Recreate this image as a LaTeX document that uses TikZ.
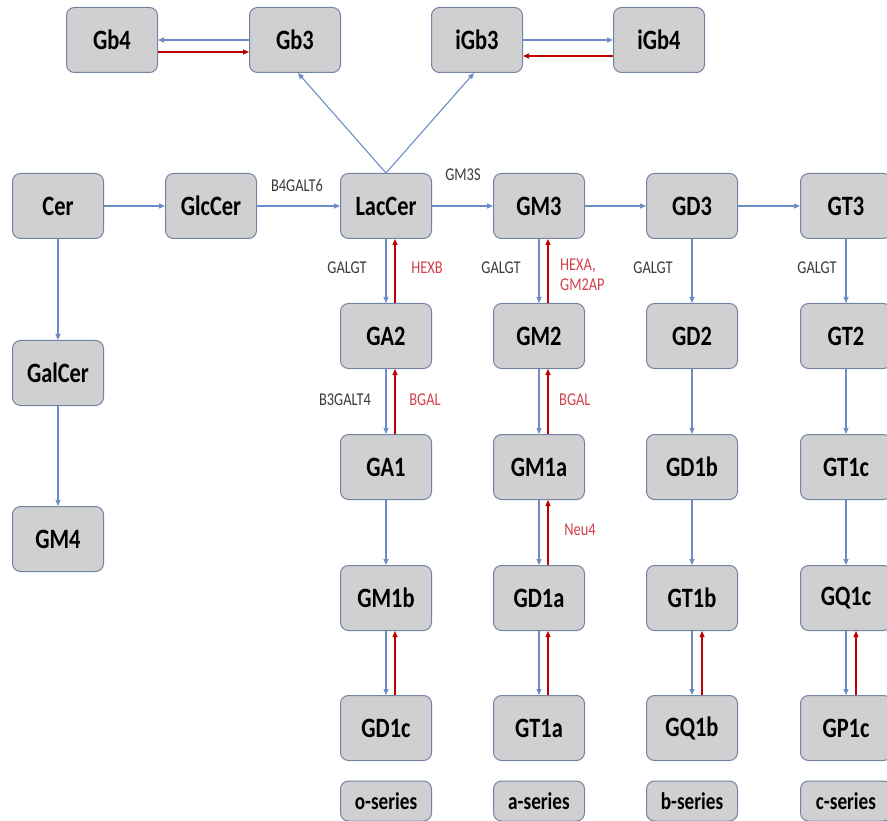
\documentclass[tikz,border=0pt]{standalone}
\usepackage{fontspec}
\setmainfont{Carlito}
\usepackage{graphicx}
\usetikzlibrary{arrows.meta}
\definecolor{boxfill}{HTML}{D0CFD1}
\definecolor{boxline}{HTML}{7484A4}
\definecolor{bluearr}{HTML}{6C8CC8}
\definecolor{redarr}{HTML}{C00000}
\definecolor{lbl}{HTML}{3A3A3A}
\definecolor{redlbl}{HTML}{D2404C}
\newcommand{\hsq}[1]{\scalebox{0.8}[1]{#1}}
\begin{document}
\begin{tikzpicture}[x=1pt,y=-1pt,
  gbox/.style={draw=boxline, fill=boxfill, line width=1pt, rounded corners=8pt,
    minimum width=91pt, minimum height=65pt, inner sep=0pt,
    font=\bfseries\fontsize{28}{30}\selectfont},
  sbox/.style={gbox, minimum height=40pt, font=\bfseries\fontsize{24}{26}\selectfont},
  fwd/.style={draw=bluearr, line width=1.1pt, -{Triangle[length=6pt,width=5pt]}},
  rev/.style={draw=redarr, line width=1.1pt, -{Triangle[length=6pt,width=5pt]}},
  enz/.style={text=lbl, font=\fontsize{18}{20}\selectfont, inner sep=0pt},
  renz/.style={text=redlbl, font=\fontsize{18}{20}\selectfont, inner sep=0pt}]
\useasboundingbox[fill=white] (0,0) rectangle (887,821);

% top row
\node[gbox] (Gb4) at (112,40) {\hsq{Gb4}};
\node[gbox] (Gb3) at (295,40) {\hsq{Gb3}};
\node[gbox] (iGb3) at (477,40) {\hsq{iGb3}};
\node[gbox] (iGb4) at (659,40) {\hsq{iGb4}};

% main row
\node[gbox] (Cer) at (58,206) {\hsq{Cer}};
\node[gbox] (GlcCer) at (211,206) {\hsq{GlcCer}};
\node[gbox] (LacCer) at (386,206) {\hsq{LacCer}};
\node[gbox] (GM3) at (539,206) {\hsq{GM3}};
\node[gbox] (GD3) at (692,206) {\hsq{GD3}};
\node[gbox] (GT3) at (846,206) {\hsq{GT3}};

\node[gbox] (GalCer) at (58,373) {\hsq{GalCer}};
\node[gbox] (GM4) at (58,539) {\hsq{GM4}};

\node[gbox] (GA2) at (386,336) {\hsq{GA2}};
\node[gbox] (GM2) at (539,336) {\hsq{GM2}};
\node[gbox] (GD2) at (692,336) {\hsq{GD2}};
\node[gbox] (GT2) at (846,336) {\hsq{GT2}};

\node[gbox] (GA1) at (386,467) {\hsq{GA1}};
\node[gbox] (GM1a) at (539,467) {\hsq{GM1a}};
\node[gbox] (GD1b) at (692,467) {\hsq{GD1b}};
\node[gbox] (GT1c) at (846,467) {\hsq{GT1c}};

\node[gbox] (GM1b) at (386,598) {\hsq{GM1b}};
\node[gbox] (GD1a) at (539,598) {\hsq{GD1a}};
\node[gbox] (GT1b) at (692,598) {\hsq{GT1b}};
\node[gbox] (GQ1c) at (846,598) {\hsq{GQ1c}};

\node[gbox] (GD1c) at (386,728) {\hsq{GD1c}};
\node[gbox] (GT1a) at (539,728) {\hsq{GT1a}};
\node[gbox] (GQ1b) at (692,728) {\hsq{GQ1b}};
\node[gbox] (GP1c) at (846,728) {\hsq{GP1c}};

\node[sbox] (so) at (386,801) {\hsq{o-series}};
\node[sbox] (sa) at (539,801) {\hsq{a-series}};
\node[sbox] (sb) at (692,801) {\hsq{b-series}};
\node[sbox] (sc) at (846,801) {\hsq{c-series}};

% top connectors
\draw[fwd] (Gb3.west) -- (Gb4.east);
\draw[rev] ([yshift=-12pt]Gb4.east) -- ([yshift=-12pt]Gb3.west);
\draw[fwd] (iGb3.east) -- (iGb4.west);
\draw[rev] ([yshift=-16pt]iGb4.west) -- ([yshift=-16pt]iGb3.east);
\draw[fwd] (LacCer.north) -- ([xshift=3pt]Gb3.south);
\draw[fwd] (LacCer.north) -- ([xshift=-3pt]iGb3.south);

% main row
\draw[fwd] (Cer) -- (GlcCer);
\draw[fwd] (GlcCer) -- (LacCer);
\draw[fwd] (LacCer) -- (GM3);
\draw[fwd] (GM3) -- (GD3);
\draw[fwd] (GD3) -- (GT3);
\draw[fwd] (Cer) -- (GalCer);
\draw[fwd] (GalCer) -- (GM4);

% o column
\draw[fwd] (LacCer) -- (GA2);
\draw[rev] ([xshift=9pt]GA2.north) -- ([xshift=9pt]LacCer.south);
\draw[fwd] (GA2) -- (GA1);
\draw[rev] ([xshift=9pt]GA1.north) -- ([xshift=9pt]GA2.south);
\draw[fwd] (GA1) -- (GM1b);
\draw[fwd] (GM1b) -- (GD1c);
\draw[rev] ([xshift=9pt]GD1c.north) -- ([xshift=9pt]GM1b.south);

% a column
\draw[fwd] (GM3) -- (GM2);
\draw[rev] ([xshift=9pt]GM2.north) -- ([xshift=9pt]GM3.south);
\draw[fwd] (GM2) -- (GM1a);
\draw[rev] ([xshift=9pt]GM1a.north) -- ([xshift=9pt]GM2.south);
\draw[fwd] (GM1a) -- (GD1a);
\draw[rev] ([xshift=9pt]GD1a.north) -- ([xshift=9pt]GM1a.south);
\draw[fwd] (GD1a) -- (GT1a);
\draw[rev] ([xshift=9pt]GT1a.north) -- ([xshift=9pt]GD1a.south);

% b column
\draw[fwd] (GD3) -- (GD2);
\draw[fwd] (GD2) -- (GD1b);
\draw[fwd] (GD1b) -- (GT1b);
\draw[fwd] (GT1b) -- (GQ1b);
\draw[rev] ([xshift=10pt]GQ1b.north) -- ([xshift=10pt]GT1b.south);

% c column
\draw[fwd] (GT3) -- (GT2);
\draw[fwd] (GT2) -- (GT1c);
\draw[fwd] (GT1c) -- (GQ1c);
\draw[fwd] (GQ1c) -- (GP1c);
\draw[rev] ([xshift=10pt]GP1c.north) -- ([xshift=10pt]GQ1c.south);

% enzyme labels
\node[enz] (lB4) at (297,185) {\hsq{B4GALT6}};
\node[enz] (lGM3S) at (463,175) {\hsq{GM3S}};
\node[enz] (lG1) at (347,268) {\hsq{GALGT}};
\node[enz] (lG2) at (501,268) {\hsq{GALGT}};
\node[enz] (lG3) at (653,268) {\hsq{GALGT}};
\node[enz] (lG4) at (817,268) {\hsq{GALGT}};
\node[enz] (lB3) at (345,400) {\hsq{B3GALT4}};
\node[renz] (lHEXB) at (427,268) {\hsq{HEXB}};
\node[renz, anchor=west, align=left] (lHEXA) at (560,275) {\hsq{HEXA,}\\\hsq{GM2AP}};
\node[renz] (lBGAL1) at (425,400) {\hsq{BGAL}};
\node[renz, anchor=west] (lBGAL2) at (559,400) {\hsq{BGAL}};
\node[renz] (lNeu) at (580,530) {\hsq{Neu4}};
\end{tikzpicture}
\end{document}
